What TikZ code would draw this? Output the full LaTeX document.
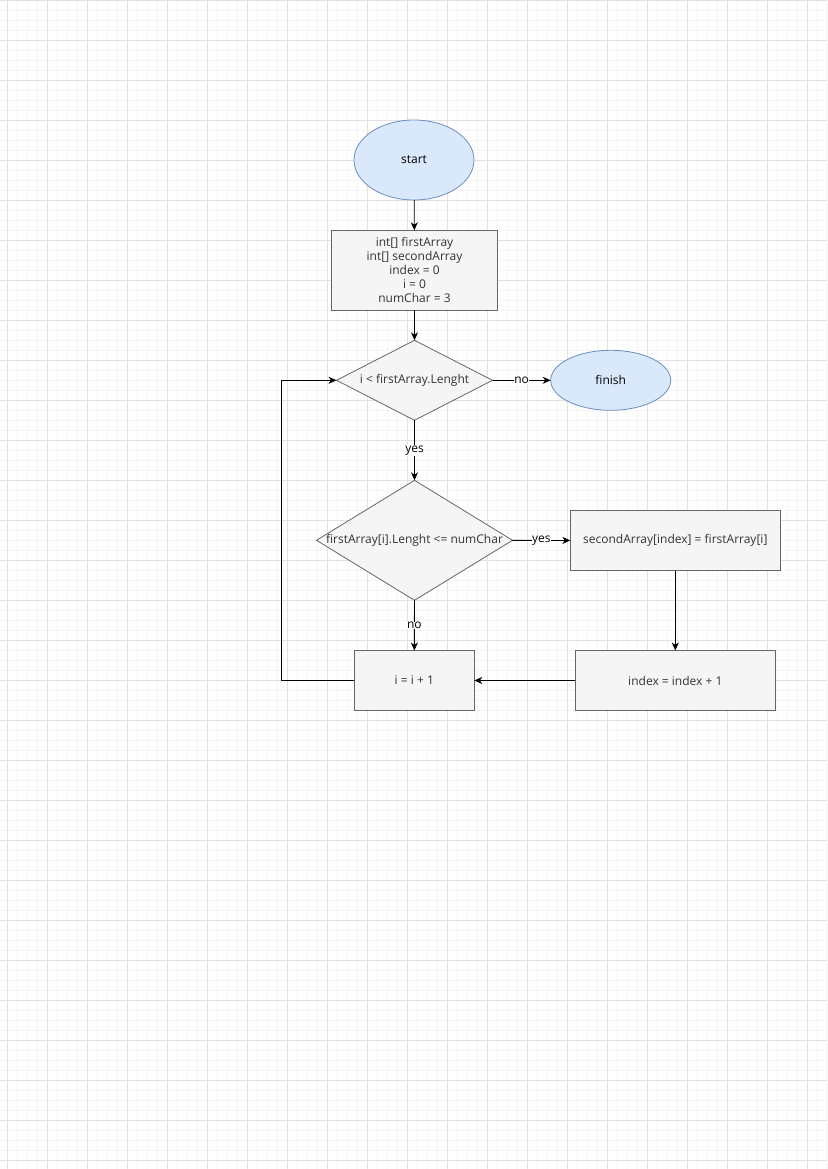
\documentclass[tikz,border=0pt]{standalone}
\usepackage{fontspec}
\setmainfont{Open Sans}
\usetikzlibrary{shapes.geometric,arrows.meta}
\definecolor{gridmajor}{HTML}{E2E2E2}
\definecolor{gridminor}{HTML}{F5F5F5}
\definecolor{procfill}{HTML}{F5F5F5}
\definecolor{procline}{HTML}{666666}
\definecolor{termfill}{HTML}{DAE8FC}
\definecolor{termline}{HTML}{6C8EBF}
\definecolor{txt}{HTML}{333333}
\tikzset{
  every node/.style={font=\fontsize{12}{14}\selectfont},
  proc/.style={rectangle, draw=procline, fill=procfill, text=txt, line width=0.8pt,
    inner sep=0pt, outer sep=0pt, align=center},
  term/.style={ellipse, draw=termline, fill=termfill, text=black, line width=0.8pt,
    inner sep=0pt, outer sep=0pt},
  decision/.style={diamond, draw=procline, fill=procfill, line width=0.8pt,
    inner sep=0pt, outer sep=0pt},
  dtext/.style={text=txt, inner sep=0pt},
  conn/.style={draw=black, line width=0.8pt, -{Stealth[length=8pt,width=7pt,inset=2.5pt]}},
  elabel/.style={fill=white, inner sep=0.5pt, text=black}
}
\begin{document}
\begin{tikzpicture}[x=1pt,y=-1pt]
\useasboundingbox (0,0) rectangle (827,1169);
% background grid
\foreach \gx in {-2.7,7.3,...,830} \draw[gridminor, line width=0.6pt] (\gx,0) -- (\gx,1169);
\foreach \gy in {10.3,20.3,...,1170} \draw[gridminor, line width=0.6pt] (0,\gy) -- (827,\gy);
\foreach \gx in {7.3,47.3,...,830} \draw[gridmajor, line width=0.6pt] (\gx,0) -- (\gx,1169);
\foreach \gy in {0.3,40.3,...,1170} \draw[gridmajor, line width=0.6pt] (0,\gy) -- (827,\gy);

% nodes
\node[term, minimum width=120pt, minimum height=80pt] (start) at (414,160) {start};
\node[proc, minimum width=166pt, minimum height=80pt] (init) at (414.5,270.3)
  {int[] firstArray\\int[] secondArray\\index = 0\\i = 0\\numChar = 3};
\node[decision, minimum width=156pt, minimum height=80pt,
  label={[dtext]center:i < firstArray.Lenght}] (cond1) at (414.5,380.3) {};
\node[term, minimum width=120pt, minimum height=60pt] (finish) at (610.7,380.3) {finish};
\node[decision, minimum width=196pt, minimum height=120pt,
  label={[dtext]center:firstArray[i].Lenght <= numChar}] (cond2) at (414.5,540.3) {};
\node[proc, minimum width=210pt, minimum height=60pt] (copy) at (675.3,540.5)
  {secondArray[index] = firstArray[i]};
\node[proc, minimum width=200pt, minimum height=60pt] (incidx) at (675.3,680.5)
  {index = index + 1};
\node[proc, minimum width=120pt, minimum height=60pt] (inci) at (414.3,680.5)
  {i = i + 1};
\coordinate (loopA) at (281,680.5);
\coordinate (loopB) at (281,380.3);

% connectors
\draw[conn] (start) -- (init);
\draw[conn] (init) -- (cond1);
\draw[conn] (cond1) -- node[elabel] {no} (finish);
\draw[conn] (cond1) -- node[elabel] {yes} (cond2);
\draw[conn] (cond2) -- node[elabel] {yes} (copy);
\draw[conn] (cond2) -- node[elabel] {no} (inci);
\draw[conn] (copy.south) -- (incidx.north);
\draw[conn] (incidx) -- (inci);
\draw[conn] (inci.west) -- (loopA) -- (loopB) -- (cond1.west);
\end{tikzpicture}
\end{document}
